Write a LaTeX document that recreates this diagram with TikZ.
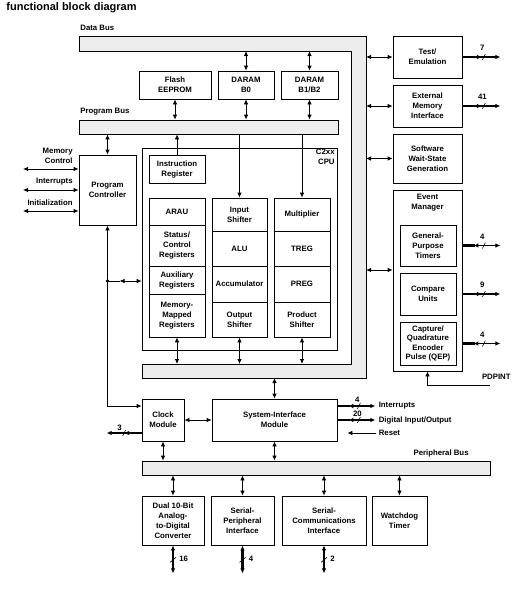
\documentclass[tikz,border=0pt]{standalone}
\usepackage{fontspec}
\setmainfont{Liberation Sans}
\usetikzlibrary{arrows.meta}

\begin{document}
\begin{tikzpicture}[x=1pt,y=-1pt,line width=0.8pt,>={Latex[length=5pt,width=4.5pt]},
    font=\fontsize{7.8}{10}\selectfont\bfseries,
    blk/.style 2 args={draw,align=center,inner sep=0pt,minimum width=#1,minimum height=#2},
    bar/.style 2 args={draw,fill=black!7,inner sep=0pt,minimum width=#1,minimum height=#2},
    lbl/.style={inner sep=0pt,align=center},
    busln/.style={line width=2.8pt},
    busarr/.style={<->,line width=1.4pt}]
    \useasboundingbox (0,0) rectangle (523,592);
    \node[lbl,anchor=west,font=\fontsize{11}{13}\selectfont\bfseries] at (6,8) {functional block diagram};
    % data bus frame
    \draw[fill=black!7] (79,36) -- (366,36) -- (366,378) -- (142,378) -- (142,364)
        -- (351,364) -- (351,51) -- (79,51) -- cycle;
    \coordinate (dbs) at (0,51);
    \coordinate (bbt) at (0,364);
    \coordinate (bbb) at (0,378);
    \coordinate (frm) at (366,0);
    \node[lbl,anchor=west] at (80,28) {Data Bus};
    \node[bar={259}{14}] (pb) at (208.5,127) {};
    \node[lbl,anchor=west] at (80,112) {Program Bus};
    \node[bar={348}{14}] (perb) at (316,468) {};
    \node[lbl,anchor=east] at (469,453) {Peripheral Bus};
    % memories
    \node[blk={72}{28}] (flash) at (175,85) {Flash\\EEPROM};
    \node[blk={56}{28}] (b0) at (246,85) {DARAM\\B0};
    \node[blk={57}{28}] (b12) at (309.5,85) {DARAM\\B1/B2};
    \draw[<->] (b0.north) -- (b0.north |- dbs);
    \draw[<->] (b12.north) -- (b12.north |- dbs);
    \draw[<->] (flash.south) -- (flash.south |- pb.north);
    \draw[<->] (b0.south) -- (b0.south |- pb.north);
    \draw[<->] (b12.south) -- (b12.south |- pb.north);
    % program controller
    \node[blk={57}{70}] (pc) at (107.5,190) {Program\\Controller};
    \draw[<->] (pc.north) -- (pc.north |- pb.south);
    \node[lbl,anchor=east,align=right] at (73,155.5) {Memory\\Control};
    \node[lbl,anchor=east] at (73,182) {Interrupts};
    \node[lbl,anchor=east] at (73,203) {Initialization};
    \coordinate (mc) at (23,169);
    \coordinate (it) at (23,190);
    \coordinate (ini) at (23,211);
    \draw[<->] (mc) -- (pc.west |- mc);
    \draw[<->] (it) -- (pc.west |- it);
    \draw[<->] (ini) -- (pc.west |- ini);
    % CPU
    \node[blk={195}{202}] (cpu) at (239.5,249) {};
    \node[lbl,anchor=north east,align=right] at (335,149) {C2xx\\CPU};
    \node[blk={56}{28}] (ir) at (177,169) {Instruction\\Register};
    \node[blk={56}{27}] (arau) at (177,211.5) {ARAU};
    \node[blk={56}{41}] (stat) at (177,245.5) {Status/\\Control\\Registers};
    \node[blk={56}{28}] (aux) at (177,280) {Auxiliary\\Registers};
    \node[blk={56}{43}] (mmr) at (177,315.5) {Memory-\\Mapped\\Registers};
    \node[blk={55}{33}] (ish) at (239.5,214.5) {Input\\Shifter};
    \node[blk={55}{35}] (alu) at (239.5,248.5) {ALU};
    \node[blk={55}{36}] (acc) at (239.5,284) {Accumulator};
    \node[blk={55}{35}] (osh) at (239.5,319.5) {Output\\Shifter};
    \node[blk={56}{33}] (mul) at (302,214.5) {Multiplier};
    \node[blk={56}{35}] (treg) at (302,248.5) {TREG};
    \node[blk={56}{36}] (preg) at (302,284) {PREG};
    \node[blk={56}{35}] (psh) at (302,319.5) {Product\\Shifter};
    \draw[->] (ir.north) -- (ir.north |- pb.south);
    \draw[->] (ish.north |- pb.south) -- (ish.north);
    \draw[->] (mul.north |- pb.south) -- (mul.north);
    \draw[<->] (mmr.south) -- (mmr.south |- bbt);
    \draw[<->] (osh.south) -- (osh.south |- bbt);
    \draw[<->] (psh.south) -- (psh.south |- bbt);
    % peripherals on the right
    \node[blk={69}{42}] (tst) at (427.5,57) {Test/\\Emulation};
    \node[blk={69}{42}] (emi) at (427.5,106) {External\\Memory\\Interface};
    \node[blk={69}{49}] (sws) at (427.5,158.5) {Software\\Wait-State\\Generation};
    \node[blk={69}{181}] (evm) at (427.5,280.5) {};
    \node[lbl,anchor=north] at (427.5,194) {Event\\Manager};
    \node[blk={56}{41}] (gpt) at (428,245.5) {General-\\Purpose\\Timers};
    \node[blk={56}{42}] (cmp) at (428,294) {Compare\\Units};
    \node[blk={56}{43},font=\fontsize{7.8}{9.4}\selectfont\bfseries] (cap) at (428,343.5) {Capture/\\Quadrature\\Encoder\\Pulse (QEP)};
    \coordinate (ev) at (366,270);
    \draw[<->] (frm |- tst.west) -- (tst.west);
    \draw[<->] (frm |- emi.west) -- (emi.west);
    \draw[<->] (frm |- sws.west) -- (sws.west);
    \draw[<->] (ev) -- (evm.west |- ev);
    \coordinate (pd) at (490,385);
    \draw[->] (pd) -- (evm.south |- pd) -- (evm.south);
    \node[lbl,anchor=east] at (511,377) {PDPINT};
    % clock and system interface
    \node[blk={42}{42}] (clk) at (163,420) {Clock\\Module};
    \node[blk={125}{42}] (sim) at (274.5,420) {System-Interface\\Module};
    \draw[<->] (clk.east) -- (sim.west);
    \draw[<->] (sim.north |- bbb) -- (sim.north);
    \draw[<->] (clk.south) -- (clk.south |- perb.north);
    \draw[<->] (sim.south) -- (sim.south |- perb.north);
    \coordinate (ck) at (107.5,406);
    \coordinate (dot) at (107.5,281);
    \draw[<->] (pc.south) -- (ck) -- (clk.west |- ck);
    \fill (dot) circle (1.8);
    \draw (dot) -- ([xshift=12pt]dot);
    \draw[<->] ([xshift=12pt]dot) -- (cpu.west |- dot);
    % buses with widths
    \coordinate (bt) at (tst.east);
    \coordinate (be) at (emi.east);
    \coordinate (bg) at (evm.east |- gpt.east);
    \coordinate (bc) at (evm.east |- cmp.east);
    \coordinate (bq) at (evm.east |- cap.east);
    \coordinate (bi) at ([yshift=14pt]sim.east);
    \coordinate (bd) at (sim.east);
    \foreach \c/\n/\h in {bt/7/9, be/41/9, bg/4/9, bc/9/9, bq/4/9, bi/4/6, bd/20/6} {
        \draw[busln] (\c) -- ([xshift=13pt]\c);
        \draw[busarr] ([xshift=11pt]\c) -- ([xshift=38pt]\c);
        \draw[line width=0.6pt] ([xshift=20pt,yshift=-3pt]\c) -- ([xshift=23pt,yshift=3pt]\c);
        \node[lbl] at ([xshift=20pt,yshift=\h pt]\c) {\n};
    }
    \node[lbl,anchor=west] at ([xshift=41pt]bi) {Interrupts};
    \node[lbl,anchor=west] at ([xshift=41pt]bd) {Digital Input/Output};
    \coordinate (rs) at ([xshift=39pt,yshift=-13pt]sim.east);
    \draw[->,shorten >=10pt] (rs) -- (sim.east |- rs);
    \node[lbl,anchor=west] at ([xshift=2pt]rs) {Reset};
    \coordinate (bk) at ([yshift=-13pt]clk.west);
    \draw[busln] (bk) -- ([xshift=-11pt]bk);
    \draw[busarr] ([xshift=-9pt]bk) -- ([xshift=-35pt]bk);
    \draw[line width=0.6pt] ([xshift=-19pt,yshift=-3pt]bk) -- ([xshift=-16pt,yshift=3pt]bk);
    \node[lbl] at ([xshift=-22pt,yshift=5pt]bk) {3};
    % peripheral bus modules
    \node[blk={62}{49}] (adc) at (173,520.5) {Dual 10-Bit\\Analog-\\to-Digital\\Converter};
    \node[blk={63}{49}] (spi) at (242.5,520.5) {Serial-\\Peripheral\\Interface};
    \node[blk={84}{49}] (sci) at (324,520.5) {Serial-\\Communications\\Interface};
    \node[blk={55}{49}] (wdt) at (399.5,520.5) {Watchdog\\Timer};
    \foreach \b in {adc,spi,sci,wdt}
        \draw[<->] (\b.north) -- (\b.north |- perb.south);
    \foreach \b/\n in {adc/16, spi/4, sci/2} {
        \draw[busarr,line width=2.2pt] (\b.south) -- ([yshift=-28pt]\b.south);
        \draw[line width=0.6pt] ([xshift=-3pt,yshift=-17pt]\b.south) -- ([xshift=3pt,yshift=-12pt]\b.south);
        \node[lbl,anchor=west] at ([xshift=6pt,yshift=-13pt]\b.south) {\n};
    }
\end{tikzpicture}
\end{document}
